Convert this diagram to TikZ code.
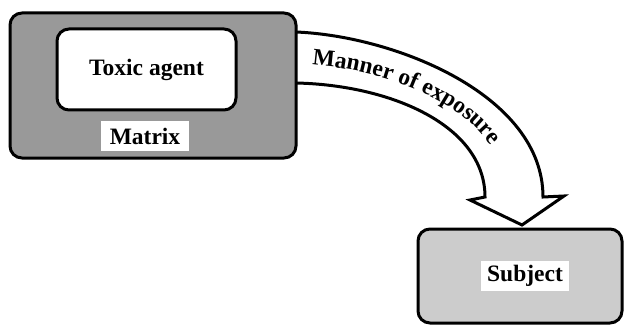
\documentclass[tikz,border=0pt]{standalone}
\usepackage{fontspec}
\setmainfont{Liberation Serif}
\usetikzlibrary{decorations.text}
\newcommand\lblfont{\bfseries\fontsize{23.5}{28}\selectfont}
\definecolor{matgray}{HTML}{999999}
\definecolor{subgray}{HTML}{CCCCCC}
\tikzset{
  bigbox/.style={draw=black, line width=3pt, rounded corners=12pt, inner sep=0pt},
  tag/.style={fill=white, inner sep=0pt, minimum width=88pt, minimum height=30pt, font=\lblfont},
  bigarrow/.style={draw=black, fill=white, line width=3pt, line join=miter}
}
\begin{document}
\begin{tikzpicture}[x=1pt,y=-1pt]
\useasboundingbox (0,0) rectangle (626,326);
% arrow
\coordinate (a1) at (296,32);
\coordinate (a2) at (543,197);
\coordinate (a3) at (564,196);
\coordinate (a4) at (522,225);
\coordinate (a5) at (470,200);
\coordinate (a6) at (485,197);
\coordinate (a7) at (296,83);
\path[bigarrow] (a1) .. controls (395,36) and (543,95) .. (a2) -- (a3) -- (a4) -- (a5) -- (a6)
  .. controls (485,125) and (390,85) .. (a7);
% matrix box
\node[bigbox, fill=matgray, minimum width=286pt, minimum height=145pt] (matrix) at (153,85.5) {};
\node[bigbox, fill=white, minimum width=179pt, minimum height=81pt, font=\lblfont] (toxic) at (146.5,69.5) {Toxic agent};
\node[tag] (matlabel) at (145,136) {Matrix};
% subject
\node[bigbox, fill=subgray, minimum width=204pt, minimum height=94pt] (subject) at (520,276) {};
\node[tag] (sublabel) at (525,276) {Subject};
% text along arrow
\path[decorate, decoration={text along path, text={|\lblfont|Manner of exposure}, text align={left indent=16pt}}]
  (296,64) .. controls (390,66) and (508,114) .. (508,197);
\end{tikzpicture}
\end{document}
